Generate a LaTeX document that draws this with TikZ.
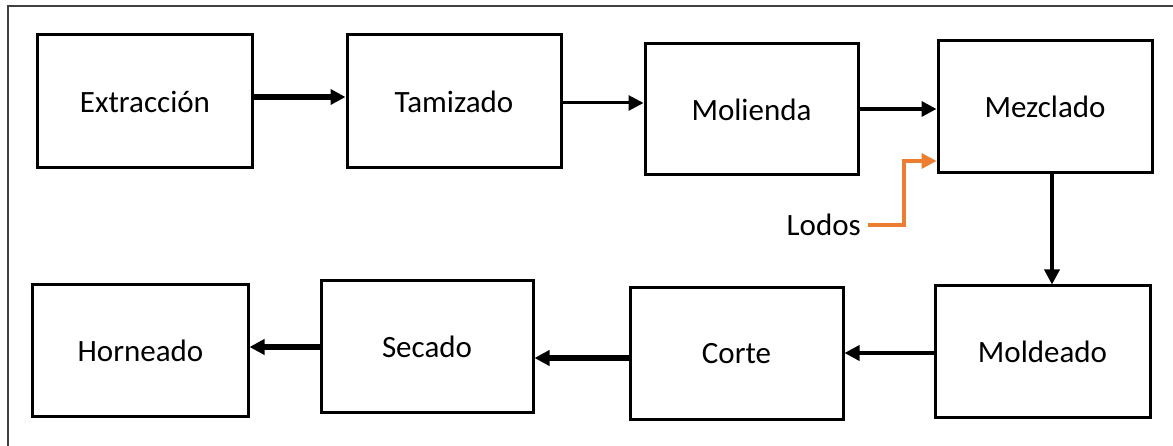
\documentclass[tikz,border=0pt]{standalone}
\usepackage{fontspec}
\setmainfont{Carlito}
\usetikzlibrary{arrows.meta}
\definecolor{lodo}{RGB}{237,125,49}
\begin{document}
\begin{tikzpicture}[x=1bp,y=-1bp,
  txt/.style={font=\fontsize{31bp}{35bp}\selectfont},
  proc/.style={draw=black,line width=3bp,minimum width=#1,inner sep=0pt,txt},
  proc/.default=213bp,
  flow/.style={line width=#1,-{Triangle[length=15bp,width=15bp]}},
  flow/.default=3bp]
\useasboundingbox (0,0) rectangle (1173,446);
\draw[line width=1.5bp,draw=black!75] (8,6) rectangle (1185,460);
% boxes (centre, width, height)
\node[proc=214bp,minimum height=133bp] (ext) at (145,101.5) {Extracción};
\node[proc=214bp,minimum height=133bp] (tam) at (454,101.5) {Tamizado};
\node[proc=213bp,minimum height=131bp] (mol) at (751.5,109.5) {Molienda};
\node[proc=214bp,minimum height=132bp] (mez) at (1045,107) {Mezclado};
\node[proc=215bp,minimum height=132bp] (mde) at (1042.5,352) {Moldeado};
\node[proc=213bp,minimum height=132bp] (cor) at (736.5,354) {Corte};
\node[proc=212bp,minimum height=132bp] (sec) at (427,347) {Secado};
\node[proc=215bp,minimum height=132bp] (hor) at (140.5,351) {Horneado};
\node[txt,anchor=east,inner sep=0pt] (lod) at (861,225) {Lodos};
\coordinate (lodA) at (868,225);
\coordinate (lodB) at (904,225);
\coordinate (lodC) at (904,161);
% connectors
\draw[flow=5.5bp] (ext.east |- 0,97) -- (tam.west |- 0,97);
\draw[flow=3bp] (tam.east |- 0,103) -- (mol.west |- 0,103);
\draw[flow=3.5bp] (mol.east |- 0,109) -- (mez.west |- 0,109);
\draw[flow=3.5bp] (mez.south -| 1052,0) -- (mde.north -| 1052,0);
\draw[flow=3.5bp] (mde.west |- 0,353) -- (cor.east |- 0,353);
\draw[flow=5.5bp] (cor.west |- 0,358) -- (sec.east |- 0,358);
\draw[flow=5.5bp] (sec.west |- 0,347) -- (hor.east |- 0,347);
\draw[flow=3.5bp,draw=lodo] (lodA) -- (lodB) -- (lodC) -- (mez.west |- lodC);
\end{tikzpicture}
\end{document}
